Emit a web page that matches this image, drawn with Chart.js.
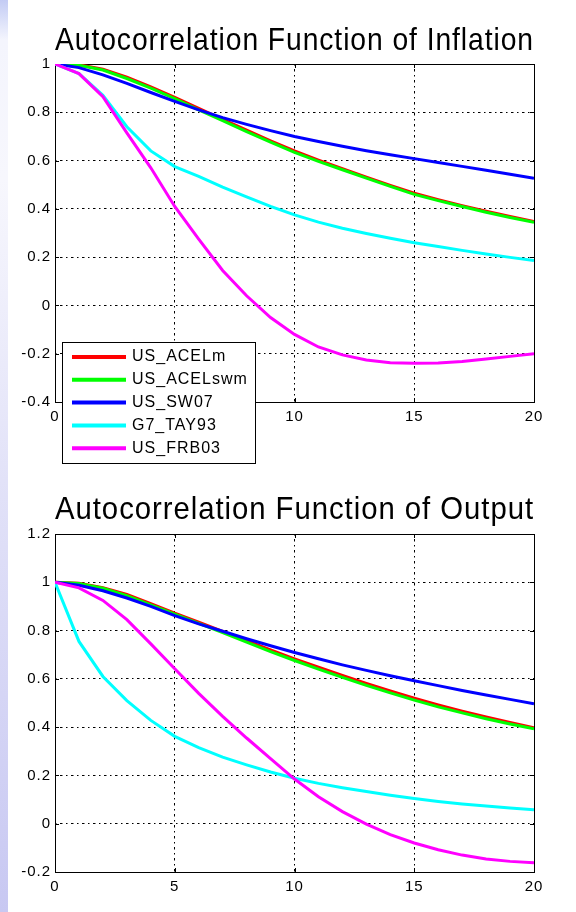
<!DOCTYPE html>
<html>
<head>
<meta charset="utf-8">
<script src="https://cdn.jsdelivr.net/npm/chart.js@4.4.1/dist/chart.umd.min.js"></script>
<style>
  html, body { margin: 0; padding: 0; background: #fff; }
  body { width: 576px; height: 912px; position: relative; overflow: hidden; }
  #strip {
    position: absolute; left: 0; top: 0; width: 8px; height: 912px;
    background: linear-gradient(to bottom, #c3cbf4 0px, #d6dcf8 16px, #f4f5fd 40px, #f7f7fd 180px, #e2e2f8 480px, #c8c8f2 912px);
  }
  canvas { position: absolute; left: 0; }
  #inflation { top: 0; }
  #output { top: 480px; }
</style>
</head>
<body>
<div id="strip"></div>
<canvas id="inflation" width="576" height="480"></canvas>
<canvas id="output" width="576" height="432"></canvas>
<script>
const lags = [0, 1, 2, 3, 4, 5, 6, 7, 8, 9, 10, 11, 12, 13, 14, 15, 16, 17, 18, 19, 20];
const seriesNames = ['US_ACELm', 'US_ACELswm', 'US_SW07', 'G7_TAY93', 'US_FRB03'];
const seriesColors = ['#ff0000', '#00ff00', '#0000ff', '#00ffff', '#ff00ff'];

// autocorrelation of inflation
const inflACELm   = [1, 0.997, 0.978, 0.945, 0.905, 0.862, 0.816, 0.771, 0.726, 0.682, 0.64, 0.602, 0.566, 0.531, 0.497, 0.465, 0.438, 0.413, 0.39, 0.368, 0.348];
const inflACELswm = [1, 0.995, 0.975, 0.94, 0.9, 0.857, 0.81, 0.765, 0.72, 0.676, 0.634, 0.597, 0.562, 0.527, 0.493, 0.46, 0.434, 0.41, 0.386, 0.364, 0.344];
const inflSW07    = [1, 0.985, 0.955, 0.92, 0.882, 0.845, 0.81, 0.778, 0.75, 0.724, 0.7, 0.679, 0.659, 0.641, 0.624, 0.608, 0.592, 0.576, 0.56, 0.543, 0.527];
const inflTAY93   = [1, 0.96, 0.87, 0.74, 0.64, 0.575, 0.535, 0.49, 0.45, 0.41, 0.375, 0.345, 0.32, 0.298, 0.278, 0.26, 0.244, 0.228, 0.213, 0.199, 0.186];
const inflFRB03   = [1, 0.96, 0.865, 0.715, 0.57, 0.41, 0.275, 0.145, 0.04, -0.05, -0.12, -0.172, -0.205, -0.226, -0.237, -0.24, -0.238, -0.232, -0.222, -0.211, -0.2];

// autocorrelation of output
const outACELm   = [1, 0.996, 0.978, 0.95, 0.912, 0.872, 0.835, 0.797, 0.758, 0.72, 0.683, 0.648, 0.614, 0.581, 0.55, 0.52, 0.492, 0.466, 0.442, 0.419, 0.397];
const outACELswm = [1, 0.995, 0.975, 0.945, 0.906, 0.868, 0.83, 0.792, 0.752, 0.713, 0.676, 0.64, 0.606, 0.573, 0.542, 0.512, 0.484, 0.459, 0.435, 0.413, 0.393];
const outSW07    = [1, 0.988, 0.965, 0.935, 0.9, 0.862, 0.828, 0.797, 0.766, 0.737, 0.709, 0.683, 0.658, 0.635, 0.613, 0.592, 0.572, 0.552, 0.533, 0.515, 0.497];
const outTAY93   = [1, 0.755, 0.61, 0.51, 0.428, 0.362, 0.315, 0.276, 0.244, 0.214, 0.188, 0.167, 0.149, 0.133, 0.118, 0.104, 0.092, 0.082, 0.073, 0.065, 0.058];
const outFRB03   = [1, 0.977, 0.925, 0.845, 0.745, 0.642, 0.54, 0.445, 0.355, 0.27, 0.185, 0.112, 0.05, -0.002, -0.045, -0.08, -0.108, -0.13, -0.146, -0.156, -0.162];

const lagTicks = [0, 5, 10, 15, 20];
const inflTicks = [-0.4, -0.2, 0, 0.2, 0.4, 0.6, 0.8, 1];
const outTicks = [-0.2, 0, 0.2, 0.4, 0.6, 0.8, 1, 1.2];

const FONT = '"Liberation Sans", Arial, sans-serif';
const dash = [1.5, 3.5, 2.5, 3.5];

// matlab-ish text spacing
const spacing = {
  id: 'spacing',
  beforeDraw(chart) { chart.ctx.letterSpacing = '1px'; }
};

// box round the axes with small inner ticks
const axesBox = {
  id: 'axesBox',
  beforeDatasetsDraw(chart) {
    const { ctx, chartArea: a, scales } = chart;
    ctx.save();
    ctx.strokeStyle = '#000';
    ctx.lineWidth = 1;
    ctx.setLineDash([]);
    ctx.strokeRect(a.left + 0.5, a.top + 0.5, a.right - a.left, a.bottom - a.top);
    ctx.beginPath();
    scales.y.ticks.forEach(t => {
      const py = Math.round(scales.y.getPixelForValue(t.value)) + 0.5;
      ctx.moveTo(a.left, py); ctx.lineTo(a.left + 4, py);
      ctx.moveTo(a.right - 4, py); ctx.lineTo(a.right, py);
    });
    scales.x.ticks.forEach(t => {
      const px = Math.round(scales.x.getPixelForValue(t.value)) + 0.5;
      ctx.moveTo(px, a.top); ctx.lineTo(px, a.top + 4);
      ctx.moveTo(px, a.bottom - 4); ctx.lineTo(px, a.bottom);
    });
    ctx.stroke();
    ctx.restore();
  }
};

// legend in the lower left corner, spilling below the axes
const boxLegend = {
  id: 'boxLegend',
  afterDraw(chart) {
    const { ctx, chartArea: a } = chart;
    const x = a.left + 7, y = a.bottom - 60, w = 193, h = 121;
    ctx.save();
    ctx.setLineDash([]);
    ctx.fillStyle = '#fff';
    ctx.fillRect(x, y, w, h);
    ctx.strokeStyle = '#000';
    ctx.lineWidth = 1;
    ctx.strokeRect(x + 0.5, y + 0.5, w, h);
    ctx.font = '16px ' + FONT;
    ctx.textBaseline = 'middle';
    chart.data.datasets.forEach((ds, i) => {
      const rowY = y + 15 + i * 22.8;
      ctx.strokeStyle = ds.borderColor;
      ctx.lineWidth = 4;
      ctx.beginPath();
      ctx.moveTo(x + 10, rowY);
      ctx.lineTo(x + 64, rowY);
      ctx.stroke();
      ctx.fillStyle = '#000';
      ctx.fillText(ds.label, x + 70, rowY);
    });
    ctx.restore();
  }
};

function makeChart(id, title, series, yTicks, layout, extraPlugins) {
  const datasets = seriesNames.map((name, i) => ({
    label: name,
    data: lags.map((lag, k) => ({ x: lag, y: series[i][k] })),
    borderColor: seriesColors[i],
    borderWidth: 3,
    pointRadius: 0,
    tension: 0,
    order: seriesNames.length - i
  }));
  return new Chart(document.getElementById(id), {
    type: 'line',
    data: { datasets },
    options: {
      responsive: false,
      animation: false,
      devicePixelRatio: 1,
      layout: { padding: { left: 0, right: 42, top: 0, bottom: 0 } },
      plugins: {
        legend: { display: false },
        tooltip: { enabled: false },
        title: {
          display: true,
          text: title,
          fullSize: false,
          color: '#000',
          font: { family: FONT, size: 30.5, weight: 'normal', lineHeight: 1.2 },
          padding: layout.titlePad
        }
      },
      scales: {
        x: {
          type: 'linear',
          min: 0,
          max: 20,
          afterBuildTicks: s => { s.ticks = lagTicks.map(v => ({ value: v })); },
          afterFit: s => { s.height = layout.xHeight; },
          ticks: { color: '#000', font: { family: FONT, size: 15 }, padding: 6, maxRotation: 0, autoSkip: false },
          grid: { color: '#000', lineWidth: 1, drawTicks: false },
          border: { display: false, dash: dash }
        },
        y: {
          type: 'linear',
          min: yTicks[0],
          max: yTicks[yTicks.length - 1],
          afterBuildTicks: s => { s.ticks = yTicks.map(v => ({ value: v })); },
          afterFit: s => { s.width = 55; },
          ticks: { color: '#000', font: { family: FONT, size: 15 }, padding: 4, callback: v => String(v) },
          grid: { color: '#000', lineWidth: 1, drawTicks: false },
          border: { display: false, dash: dash }
        }
      }
    },
    plugins: [spacing, axesBox].concat(extraPlugins)
  });
}

makeChart('inflation', 'Autocorrelation Function of Inflation',
  [inflACELm, inflACELswm, inflSW07, inflTAY93, inflFRB03], inflTicks,
  { titlePad: { top: 23, bottom: 4.4 }, xHeight: 78 }, [boxLegend]);

makeChart('output', 'Autocorrelation Function of Output',
  [outACELm, outACELswm, outSW07, outTAY93, outFRB03], outTicks,
  { titlePad: { top: 12, bottom: 5.4 }, xHeight: 40 }, []);
</script>
</body>
</html>
